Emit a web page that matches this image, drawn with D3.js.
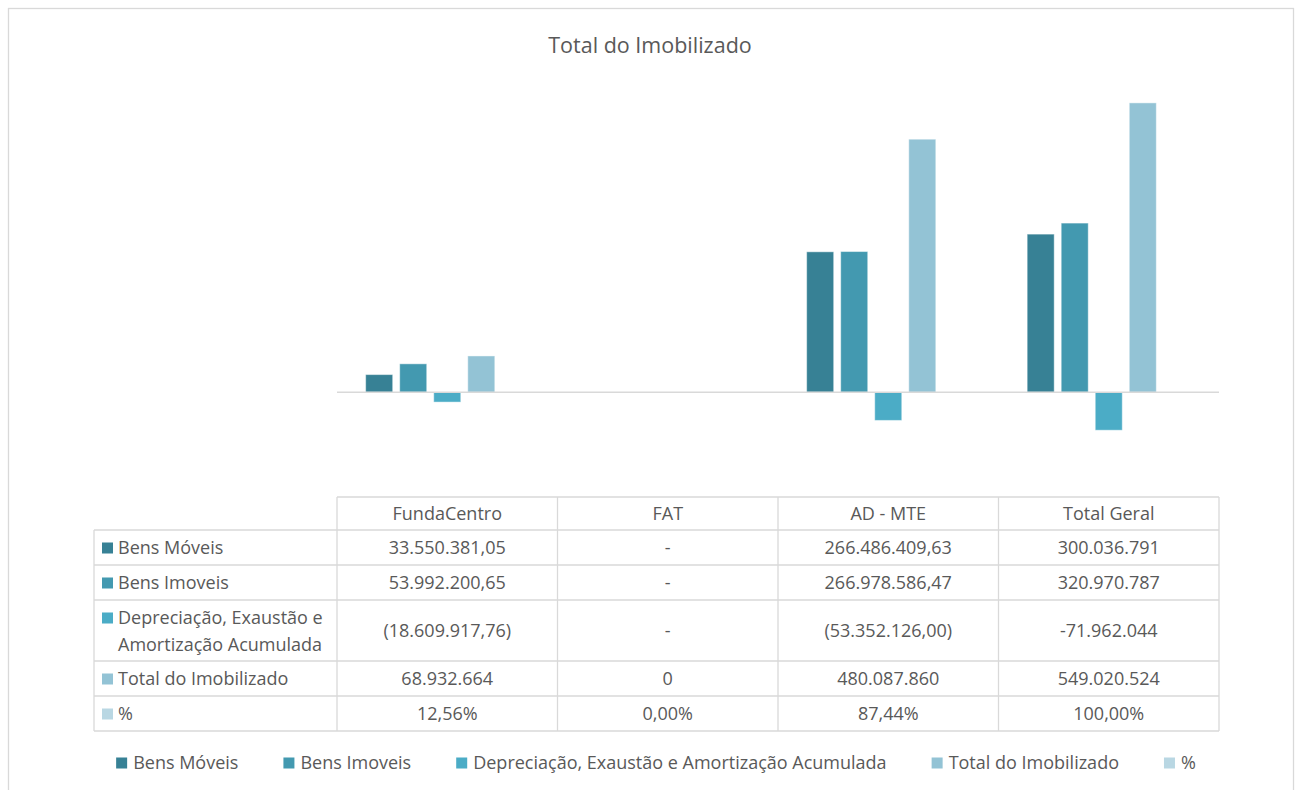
<!DOCTYPE html>
<html>
<head>
<meta charset="utf-8">
<script src="https://cdn.jsdelivr.net/npm/d3@7"></script>
<style>
  body { margin: 0; background: #fff; }
  text { font-family: "Open Sans", Lato, sans-serif; fill: #595959; }
</style>
</head>
<body>
<svg id="chart"></svg>
<script>
// categories and series
const categories = ["FundaCentro", "FAT", "AD - MTE", "Total Geral"];
const seriesNames = ["Bens Móveis", "Bens Imoveis", "Depreciação, Exaustão e Amortização Acumulada", "Total do Imobilizado", "%"];
const seriesColors = ["#378195", "#4399b0", "#4bacc6", "#93c3d5", "#b9d7e3"];

// values
const bensMoveis = [33550381.05, 0, 266486409.63, 300036791];
const bensImoveis = [53992200.65, 0, 266978586.47, 320970787];
const depreciacao = [-18609917.76, 0, -53352126.00, -71962044];
const totalImobilizado = [68932664, 0, 480087860, 549020524];
const percentual = [0.1256, 0, 0.8744, 1];

// text shown in the data table
const tableText = [
  ["33.550.381,05", "-", "266.486.409,63", "300.036.791"],
  ["53.992.200,65", "-", "266.978.586,47", "320.970.787"],
  ["(18.609.917,76)", "-", "(53.352.126,00)", "-71.962.044"],
  ["68.932.664", "0", "480.087.860", "549.020.524"],
  ["12,56%", "0,00%", "87,44%", "100,00%"]
];
const rowLabels = [["Bens Móveis"], ["Bens Imoveis"], ["Depreciação, Exaustão e", "Amortização Acumulada"], ["Total do Imobilizado"], ["%"]];

const allSeries = [bensMoveis, bensImoveis, depreciacao, totalImobilizado, percentual];

const width = 1300, height = 790;
const svg = d3.select("#chart").attr("width", width).attr("height", height);

svg.append("rect").attr("width", width).attr("height", height).attr("fill", "#fff");
// outer chart border (runs off the bottom)
svg.append("rect")
  .attr("x", 8.5).attr("y", 8.5).attr("width", 1285).attr("height", 820)
  .attr("fill", "none").attr("stroke", "#d9d9d9").attr("stroke-width", 1.3);

svg.append("text")
  .attr("x", 650).attr("y", 53)
  .attr("text-anchor", "middle")
  .attr("font-size", 21.5)
  .text("Total do Imobilizado");

let x0 = d3.scaleBand()
  .domain(categories)
  .range([337, 1219])
  .paddingInner(0.26)
  .paddingOuter(0.13);

let x1 = d3.scaleBand()
  .domain(d3.range(seriesNames.length))
  .range([0, x0.bandwidth()])
  .paddingInner(0.206);

let y = d3.scaleLinear()
  .domain([-100e6, 600e6])
  .range([445, 76]);

let data = [];
categories.forEach((c, ci) => {
  allSeries.forEach((s, si) => data.push({cat: c, s: si, value: s[ci]}));
});

svg.append("g")
  .selectAll("rect")
  .data(data)
  .join("rect")
  .attr("x", d => x0(d.cat) + x1(d.s))
  .attr("y", d => y(Math.max(0, d.value)))
  .attr("width", x1.bandwidth())
  .attr("height", d => Math.abs(y(d.value) - y(0)))
  .attr("fill", d => seriesColors[d.s])
  .attr("stroke", "#fff")
  .attr("stroke-opacity", 0.45)
  .attr("stroke-width", 1);

// zero line
svg.append("line")
  .attr("x1", 337).attr("x2", 1219)
  .attr("y1", y(0)).attr("y2", y(0))
  .attr("stroke", "#d9d9d9").attr("stroke-width", 1.5);

// data table
const rowEdges = [497, 530, 565, 600, 661, 696, 731];
const tableLeft = 94, tableRight = 1219;
const fs = 18;
let grid = svg.append("g").attr("stroke", "#d9d9d9").attr("stroke-width", 1.3).attr("fill", "none");

// horizontal lines
rowEdges.forEach((ry, i) => {
  grid.append("line")
    .attr("x1", i === 0 ? 337 : tableLeft).attr("x2", tableRight)
    .attr("y1", ry).attr("y2", ry);
});
// vertical lines
grid.append("line").attr("x1", tableLeft).attr("x2", tableLeft).attr("y1", rowEdges[1]).attr("y2", rowEdges[6]);
[337, ...categories.map(c => x0(c) - x0.step() * x0.paddingInner() / 2 + x0.step())].forEach(vx => {
  grid.append("line").attr("x1", vx).attr("x2", vx).attr("y1", rowEdges[0]).attr("y2", rowEdges[6]);
});

const colCenter = c => x0(c) + x0.bandwidth() / 2;

svg.append("g")
  .selectAll("text")
  .data(categories)
  .join("text")
  .attr("x", d => colCenter(d))
  .attr("y", (rowEdges[0] + rowEdges[1]) / 2 + 6.5)
  .attr("text-anchor", "middle")
  .attr("font-size", fs)
  .text(d => d);

rowLabels.forEach((lines, ri) => {
  let top = rowEdges[ri + 1], bottom = rowEdges[ri + 2];
  let mid = (top + bottom) / 2;
  let firstBase = mid + 6.5 - (lines.length - 1) * 13;
  svg.append("rect")
    .attr("x", 102).attr("y", firstBase - 11.5)
    .attr("width", 11).attr("height", 11)
    .attr("fill", seriesColors[ri]);
  let t = svg.append("text").attr("font-size", fs);
  lines.forEach((ln, li) => {
    t.append("tspan").attr("x", 118).attr("y", firstBase + li * 27).text(ln);
  });
  categories.forEach((c, ci) => {
    svg.append("text")
      .attr("x", colCenter(c))
      .attr("y", mid + 6.5)
      .attr("text-anchor", "middle")
      .attr("font-size", fs)
      .text(tableText[ri][ci]);
  });
});

// legend
let legend = svg.append("g");
let items = legend.selectAll("g")
  .data(seriesNames)
  .join("g");
items.append("rect")
  .attr("width", 11).attr("height", 11)
  .attr("y", -11.5)
  .attr("fill", (d, i) => seriesColors[i]);
items.append("text")
  .attr("x", 17)
  .attr("font-size", fs)
  .text(d => d);
let gap = 45;
let lx = 0;
items.each(function() {
  let w = this.querySelector("text").getComputedTextLength();
  d3.select(this).attr("transform", `translate(${lx},0)`);
  lx += 17 + w + gap;
});
let legendWidth = lx - gap;
legend.attr("transform", `translate(${656 - legendWidth / 2},769)`);
</script>
</body>
</html>
